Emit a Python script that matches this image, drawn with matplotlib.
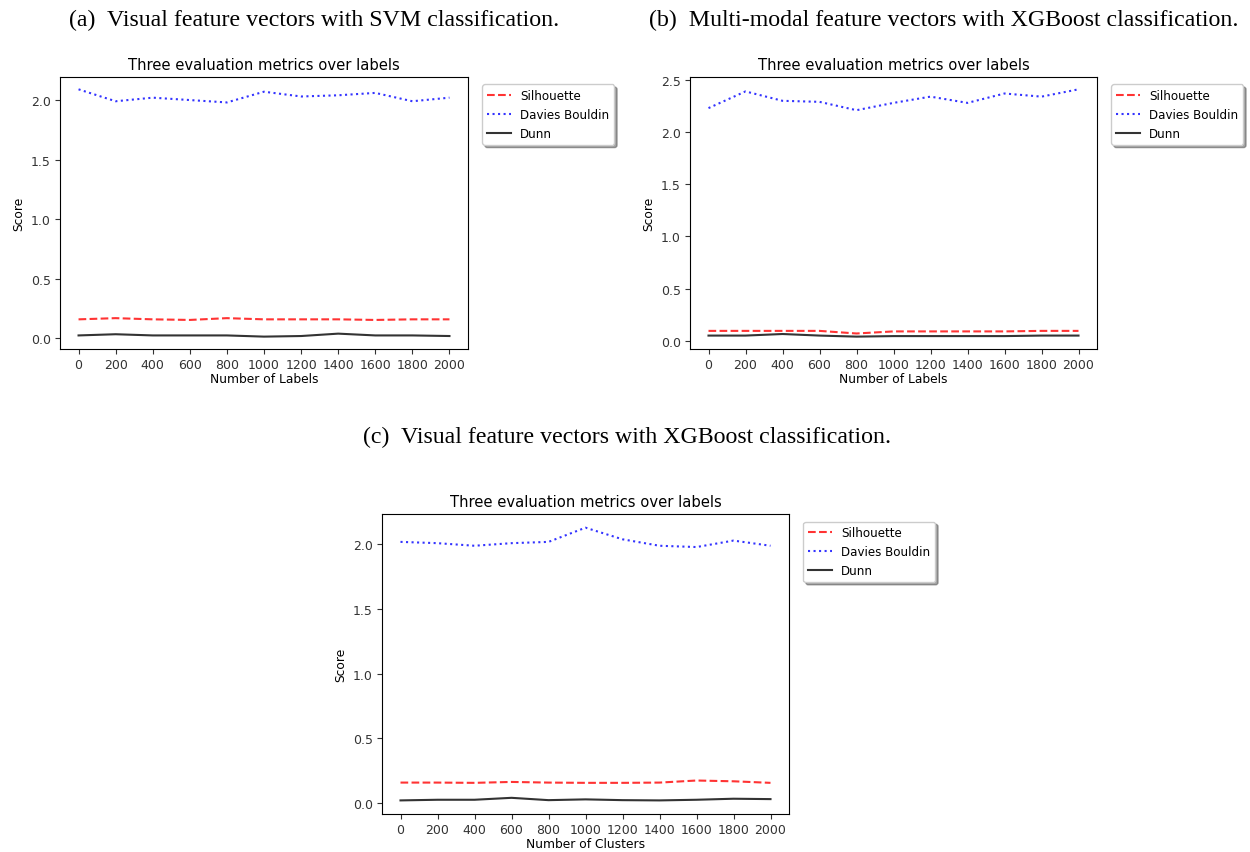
import matplotlib
matplotlib.use("Agg")
import matplotlib.pyplot as plt

labels = [0, 200, 400, 600, 800, 1000, 1200, 1400, 1600, 1800, 2000]

# (a) visual features, SVM
a_sil = [0.16, 0.17, 0.16, 0.155, 0.17, 0.16, 0.16, 0.16, 0.155, 0.16, 0.16]
a_db = [2.09, 1.99, 2.02, 2.00, 1.98, 2.07, 2.03, 2.04, 2.06, 1.99, 2.02]
a_dunn = [0.025, 0.035, 0.025, 0.025, 0.025, 0.015, 0.02, 0.04, 0.025, 0.025, 0.02]

# (b) multi-modal features, XGBoost
b_sil = [0.095, 0.095, 0.095, 0.095, 0.07, 0.09, 0.09, 0.09, 0.09, 0.095, 0.095]
b_db = [2.23, 2.39, 2.30, 2.29, 2.21, 2.28, 2.34, 2.28, 2.37, 2.34, 2.41]
b_dunn = [0.05, 0.05, 0.065, 0.05, 0.04, 0.045, 0.045, 0.045, 0.045, 0.05, 0.05]

# (c) visual features, XGBoost
c_sil = [0.156, 0.156, 0.154, 0.161, 0.156, 0.154, 0.154, 0.156, 0.172, 0.166, 0.154]
c_db = [2.02, 2.01, 1.99, 2.01, 2.02, 2.13, 2.04, 1.99, 1.98, 2.03, 1.99]
c_dunn = [0.018, 0.023, 0.023, 0.038, 0.02, 0.026, 0.02, 0.018, 0.023, 0.031, 0.028]

captions = ["(a)  Visual feature vectors with SVM classification.",
            "(b)  Multi-modal feature vectors with XGBoost classification.",
            "(c)  Visual feature vectors with XGBoost classification."]

fig = plt.figure(figsize=(12.5, 8.53), dpi=100)

def draw(rect, sil, db, dunn, xlabel):
    ax = fig.add_axes(rect)
    ax.plot(labels, sil, "r--", alpha=0.8, label="Silhouette")
    ax.plot(labels, db, "b:", alpha=0.8, label="Davies Bouldin")
    ax.plot(labels, dunn, "k-", alpha=0.8, label="Dunn")
    ax.set_xticks(labels)
    ax.tick_params(labelsize=9, colors="#333333", pad=3)
    ax.set_title("Three evaluation metrics over labels", fontsize=10.6)
    ax.set_xlabel(xlabel, fontsize=8.8, labelpad=1)
    ax.set_ylabel("Score", fontsize=8.8)
    ax.legend(loc="upper left", bbox_to_anchor=(1.02, 0.995), fontsize=8.6,
              shadow=True, fancybox=True)
    return ax

draw([0.048, 0.5897, 0.3264, 0.3189], a_sil, a_db, a_dunn, "Number of Labels")
draw([0.552, 0.5897, 0.3256, 0.3189], b_sil, b_db, b_dunn, "Number of Labels")
draw([0.3056, 0.0445, 0.3256, 0.3517], c_sil, c_db, c_dunn, "Number of Clusters")

fig.text(314 / 1250, 1 - 20 / 853, captions[0], ha="center", va="center",
         family="Liberation Serif", fontsize=17.2)
fig.text(944 / 1250, 1 - 20 / 853, captions[1], ha="center", va="center",
         family="Liberation Serif", fontsize=17.2)
fig.text(627 / 1250, 1 - 437 / 853, captions[2], ha="center", va="center",
         family="Liberation Serif", fontsize=17.2)

fig.savefig("out.png", dpi=100)
